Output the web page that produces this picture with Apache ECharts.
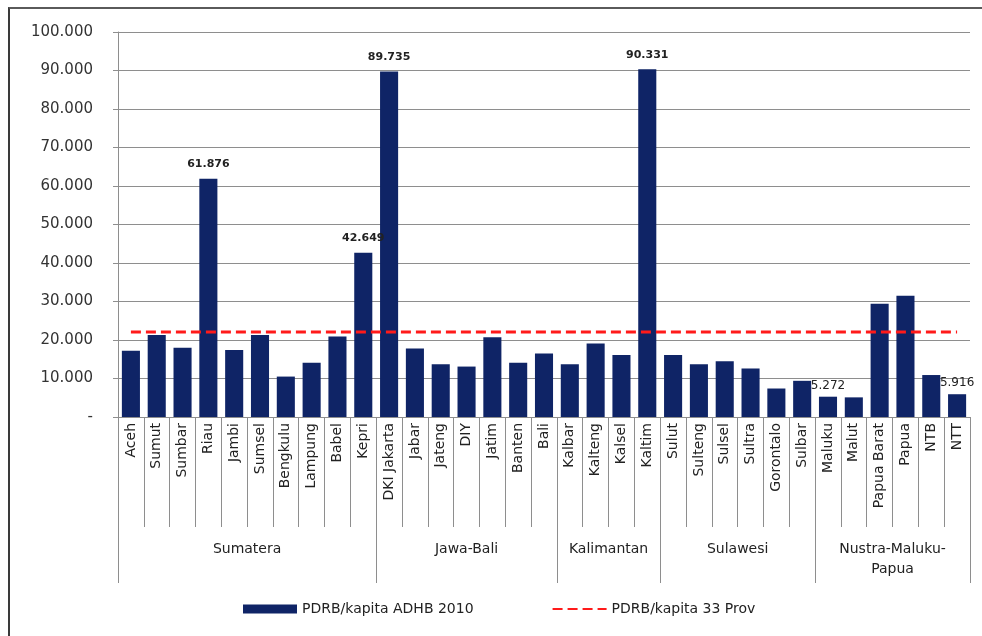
<!DOCTYPE html>
<html>
<head>
<meta charset="utf-8">
<script src="https://cdn.jsdelivr.net/npm/echarts@6/dist/echarts.min.js"></script>
<style>
  html, body { margin: 0; padding: 0; background: #fff; }
  #frame { position: absolute; left: 8px; top: 7px; width: 974px; height: 629px;
           border-left: 2px solid #3a3a3a; border-top: 2px solid #5a5a5a; }
  #chart { position: absolute; left: 0; top: 0; width: 982px; height: 636px; }
</style>
</head>
<body>
<div id="chart"></div>
<div id="frame"></div>
<script>
// Provinces (x-axis categories)
const provinces = ['Aceh', 'Sumut', 'Sumbar', 'Riau', 'Jambi', 'Sumsel', 'Bengkulu', 'Lampung', 'Babel', 'Kepri',
  'DKI Jakarta', 'Jabar', 'Jateng', 'DIY', 'Jatim', 'Banten', 'Bali',
  'Kalbar', 'Kalteng', 'Kalsel', 'Kaltim',
  'Sulut', 'Sulteng', 'Sulsel', 'Sultra', 'Gorontalo', 'Sulbar',
  'Maluku', 'Malut', 'Papua Barat', 'Papua', 'NTB', 'NTT'];

// PDRB per capita ADHB 2010 (thousand rupiah)
const pdrbPerCapita = [17200, 21300, 18000, 61876, 17400, 21300, 10500, 14100, 20900, 42649,
  89735, 17800, 13700, 13100, 20700, 14100, 16500,
  13700, 19100, 16100, 90331,
  16100, 13700, 14500, 12600, 7400, 9400,
  5272, 5100, 29400, 31500, 10900, 5916];

// National (33 provinces) PDRB per capita
const nationalPerCapita = 22100;

// Bars whose values are printed, and whether the label is bold
const labeledBars = { 3: true, 9: true, 10: true, 20: true, 27: false, 32: false };

// Island groups: name and [start, end) category index range
const groupNames = ['Sumatera', 'Jawa-Bali', 'Kalimantan', 'Sulawesi', 'Nustra-Maluku-\nPapua'];
const groupBounds = [0, 10, 17, 21, 27, 33];

// Y-axis ticks
const yMin = 0, yMax = 100000, yStep = 10000;

const FONT = 'DejaVu Sans';
const GRID_COLOR = '#8e8e8e';
const BAR_COLOR = '#0f2466';
const LINE_COLOR = '#ff1a1a';

function fmt(v) {
  if (v === 0) return '-';
  return String(v).replace(/\B(?=(\d{3})+(?!\d))/g, '.');
}

const barData = pdrbPerCapita.map((v, i) => {
  const item = { value: v };
  if (i in labeledBars) {
    const bold = labeledBars[i];
    item.label = {
      show: true,
      position: 'top',
      distance: bold ? 9 : 5,
      formatter: fmt(v),
      fontFamily: FONT,
      fontSize: bold ? 11 : 12,
      fontWeight: bold ? 'bold' : 'normal',
      color: '#222'
    };
  }
  return item;
});

const groupCenters = groupNames.map((_, i) => (groupBounds[i] + groupBounds[i + 1]) / 2);

const chart = echarts.init(document.getElementById('chart'), null, { renderer: 'canvas' });
chart.setOption({
  animation: false,
  backgroundColor: '#fff',
  grid: { left: 118, right: 12, top: 32, bottom: 219, containLabel: false },
  legend: {
    left: 238,
    top: 597,
    itemWidth: 54,
    itemHeight: 9,
    itemGap: 78,
    textStyle: { fontFamily: FONT, fontSize: 14, color: '#222' },
    data: [
      { name: 'PDRB/kapita ADHB 2010', icon: 'rect' },
      // dashed line only, no marker dot
      { name: 'PDRB/kapita 33 Prov', itemStyle: { opacity: 0 } }
    ]
  },
  xAxis: [
    {
      type: 'category',
      data: provinces,
      position: 'bottom',
      axisLine: { show: true, lineStyle: { color: GRID_COLOR, width: 1 } },
      axisTick: { show: true, interval: 0, length: 110, lineStyle: { color: GRID_COLOR } },
      axisLabel: {
        interval: 0, rotate: 90, margin: 6,
        fontFamily: FONT, fontSize: 14, color: '#222'
      }
    },
    {
      type: 'value',
      position: 'bottom',
      min: 0,
      max: provinces.length,
      splitLine: { show: false },
      axisLine: { show: false },
      axisTick: {
        show: true, length: 166, customValues: groupBounds,
        lineStyle: { color: GRID_COLOR }
      },
      axisLabel: {
        show: true, margin: 122, customValues: groupCenters,
        formatter: v => groupNames[groupCenters.indexOf(v)],
        fontFamily: FONT, fontSize: 14, lineHeight: 20, color: '#222', align: 'center'
      }
    }
  ],
  yAxis: {
    type: 'value',
    min: yMin,
    max: yMax,
    interval: yStep,
    axisLine: { show: true, lineStyle: { color: GRID_COLOR } },
    axisTick: { show: true, length: 5, lineStyle: { color: GRID_COLOR } },
    splitLine: { show: true, lineStyle: { color: GRID_COLOR, width: 1 } },
    axisLabel: {
      margin: 25,
      formatter: fmt,
      fontFamily: FONT, fontSize: 15, color: '#333'
    }
  },
  series: [
    {
      name: 'PDRB/kapita ADHB 2010',
      type: 'bar',
      xAxisIndex: 0,
      barWidth: '70%',
      itemStyle: { color: BAR_COLOR },
      data: barData,
      z: 2
    },
    {
      name: 'PDRB/kapita 33 Prov',
      type: 'line',
      xAxisIndex: 0,
      symbol: 'none',
      lineStyle: { color: LINE_COLOR, width: 3, type: [10, 5] },
      itemStyle: { color: LINE_COLOR },
      data: provinces.map(() => nationalPerCapita),
      z: 3
    }
  ]
});
</script>
</body>
</html>
